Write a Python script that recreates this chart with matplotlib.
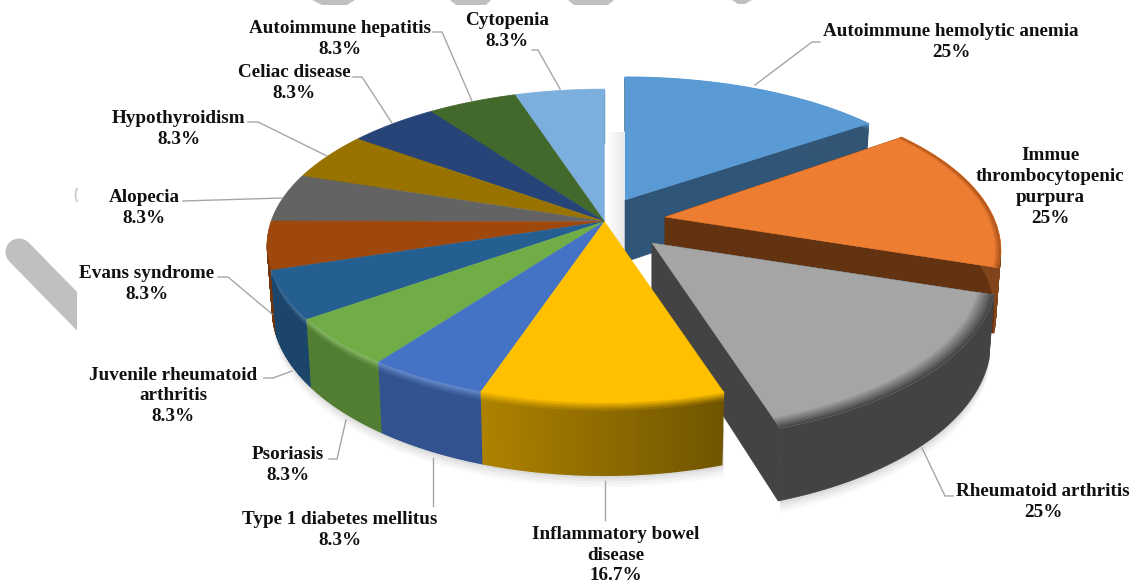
import numpy as np
import matplotlib
matplotlib.use("Agg")
import matplotlib.pyplot as plt
from matplotlib.collections import PolyCollection
from matplotlib.colors import to_rgb
from matplotlib.patches import Arc, Polygon, Rectangle

# slices clockwise from 12 o'clock
categories = [
    "Autoimmune hemolytic anemia",
    "Immue\nthrombocytopenic\npurpura",
    "Rheumatoid arthritis",
    "Inflammatory bowel\ndisease",
    "Type 1 diabetes mellitus",
    "Psoriasis",
    "Juvenile rheumatoid\narthritis",
    "Evans syndrome",
    "Alopecia",
    "Hypothyroidism",
    "Celiac disease",
    "Autoimmune hepatitis",
    "Cytopenia",
]
values = [25, 25, 25, 16.7, 8.3, 8.3, 8.3, 8.3, 8.3, 8.3, 8.3, 8.3, 8.3]

colors = ["#5b9bd5", "#ed7d31", "#a5a5a5", "#ffc000", "#4472c4", "#70ad47", "#255e91",
          "#9e480e", "#636363", "#997300", "#264478", "#43682b", "#7cafdd"]
# label centres in pixels
label_pos = [(951, 42), (1050, 187), (1043, 502), (616, 555), (340, 530), (288, 465), (173, 396),
             (147, 284), (144, 208), (179, 129), (294, 83), (340, 39), (507, 31)]
leaders = {
    0: [(755, 85), (812, 42), (820, 42)],
    2: [(922, 448), (945, 496), (953, 496)],
    3: [(605, 481), (605, 520)],
    4: [(433, 458), (433, 506)],
    5: [(346, 420), (337, 459), (329, 459)],
    6: [(292, 371), (273, 378), (264, 378)],
    7: [(272, 314), (228, 277), (218, 277)],
    8: [(183, 201), (282, 198)],
    9: [(248, 122), (258, 122), (327, 156)],
    10: [(353, 77), (362, 77), (392, 123)],
    11: [(433, 32), (442, 32), (472, 101)],
    12: [(532, 50), (538, 50), (560, 89)],
}

# pie geometry, pixels
RX, RY, K, HEIGHT = 333, 152.5, 0.155, 62
CENTER = (604.5, 221.5, 1, 1, K)
# cx, cy, x scale, y scale, perspective for the pulled-out slices
pulled = {0: (625, 200, 0.985, 0.93, K), 1: (665, 217, 0.985, 1.0, 0.21), 2: (652, 243, 1.01, 1.02, 0.21)}
face_colors = {0: "#2f5578", 1: "#633210", 2: "#434343"}


def project(theta, r, depth, cx, cy, sx, sy, k):
    t = np.radians(theta)
    u, v = r * np.sin(t), r * np.cos(t)
    f = 1 / (1 + k * v)
    x = cx + RX * u * f * sx * (1 - 0.015 * depth)
    y = cy - RY * v * f * sy + HEIGHT * depth / (1 + K * v)
    return np.column_stack([x, y])


def mix(c1, c2, a):
    return tuple((1 - a) * np.array(to_rgb(c1)) + a * np.array(to_rgb(c2)))


def rim_colour(i, theta):
    base = colors[i]
    if i == 2:
        return to_rgb("#434343")
    if i == 3:
        return mix(base, "#000000", 1 - (0.44 + (theta - 162) / 36 * 0.24))
    if i in (0, 1):
        return mix(base, "#000000", 0.45)
    return mix(base, "#000000", 0.27)


def draw_slice(ax, i, a0, a1, geom):
    top = colors[i]
    th = np.linspace(a0, a1, 60)
    apex = project(np.array([0.0]), 0, 0, *geom)
    apex_low = project(np.array([0.0]), 0, 1, *geom)

    # radial cut faces
    if i in pulled:
        for a in (a0, a1):
            p0 = project(np.array([a]), 1, 0, *geom)
            p1 = project(np.array([a]), 1, 1, *geom)
            ax.add_patch(Polygon(np.vstack([apex, p0, p1, apex_low]), fc=face_colors[i],
                                 ec=face_colors[i], lw=0.5))

    # outer rim, split in small quads for the shading
    if i == 2:
        up = project(th, 1, 0, *geom)
        low = project(th, 1, 1, *geom)
        ax.add_patch(Polygon(np.vstack([up, low[::-1]]), fc="#434343", ec="#434343", lw=0.5))
    else:
        depths = [0, 0.02, 0.04, 0.06, 0.08, 0.1, 0.13, 1]
        quads, cols = [], []
        for j in range(len(depths) - 1):
            up = project(th, 1, depths[j], *geom)
            low = project(th, 1, depths[j + 1], *geom)
            for n in range(len(th) - 1):
                quads.append([up[n], up[n + 1], low[n + 1], low[n]])
                highlight = mix(top, "#ffffff", 0.2) if i > 3 else top
                cols.append(mix(highlight, rim_colour(i, th[n]), min(1, j / 6)))
        ax.add_collection(PolyCollection(quads, facecolors=cols, edgecolors=cols, linewidths=1.0))

    # top surface
    arc = project(th, 1, 0, *geom)
    ax.add_patch(Polygon(np.vstack([apex, arc]), fc=top, ec=top, lw=0.3))

    # darker bevel inside the edge of the two right slices
    if i in (1, 2):
        rings = np.linspace(0.955, 1, 10) if i == 2 else np.linspace(0.985, 1, 4)
        dark = "#434343" if i == 2 else "#b0561c"
        for n in range(len(rings) - 1):
            outer = project(th, rings[n + 1], 0, *geom)
            inner = project(th, rings[n], 0, *geom)
            c = mix(top, dark, (n + 1) / (len(rings) - 1))
            ax.add_patch(Polygon(np.vstack([inner, outer[::-1]]), fc=c, ec=c, lw=0.2))


def draw_shadow(ax, a0, a1, geom):
    th = np.linspace(a0, a1, 80)
    for off, alpha in zip((12, 9, 6, 3), (0.025, 0.03, 0.04, 0.05)):
        low = project(th, 1, 1, *geom) + [0, off]
        up = project(th, 1, 0.5, *geom)
        ax.add_patch(Polygon(np.vstack([low, up[::-1]]), fc="#000000", ec="none", alpha=alpha))


fig = plt.figure(figsize=(11.38, 5.87), dpi=100)
ax = fig.add_axes([0, 0, 1, 1])
ax.set_xlim(0, 1138)
ax.set_ylim(587, 0)
ax.axis("off")

# watermark strokes
wm = "#c0c0c0"
band, = ax.plot([19, 110], [252, 345], color=wm, lw=19.5, solid_capstyle="round", zorder=0)
band.set_clip_path(Rectangle((0, 200), 77, 200, transform=ax.transData))
ax.add_patch(Polygon([(312, 0), (355, 0), (347, 5), (322, 5)], fc=wm, ec="none", zorder=0))
ax.add_patch(Polygon([(450, 0), (491, 0), (486, 5), (456, 5)], fc=wm, ec="none", zorder=0))
ax.add_patch(Polygon([(568, 0), (614, 0), (608, 5), (574, 5)], fc=wm, ec="none", zorder=0))
ax.add_patch(Polygon([(732, 0), (752, 0), (745, 4), (738, 4)], fc=wm, ec="none", zorder=0))
ax.add_patch(Arc((80, 195), 9, 17, theta1=110, theta2=250, color="#c8c8c8", lw=1.2, zorder=0))

# soft shadow in the gap behind the pulled-out slices
for x0, g in zip(range(608, 624, 2), np.linspace(0.99, 0.92, 8)):
    ax.add_patch(Rectangle((x0, 132), 624 - x0, 118, fc=str(g), ec="none", zorder=0))

# slice angles
angles = np.cumsum([0] + values) / np.sum(values) * 360
spans = [(angles[i], angles[i + 1]) for i in range(len(values))]

draw_shadow(ax, 162, 275, CENTER)
draw_shadow(ax, 108, 162, pulled[2])

for i in pulled:
    draw_slice(ax, i, spans[i][0], spans[i][1], pulled[i])

rest = [i for i in range(len(values)) if i not in pulled]
rest.sort(key=lambda i: -np.cos(np.radians(sum(spans[i]) / 2)))
for i in rest:
    draw_slice(ax, i, spans[i][0], spans[i][1], CENTER)

for i, pts in leaders.items():
    xs, ys = zip(*pts)
    ax.plot(xs, ys, color="#a6a6a6", lw=1.0, zorder=5)

for name, val, (x, y) in zip(categories, values, label_pos):
    ax.text(x, y, "{}\n{:g}%".format(name, val), ha="center", va="center", family="Liberation Serif",
            fontweight="bold", fontsize=13.8, color="#111111", linespacing=1.3, zorder=6)

fig.savefig("out.png", dpi=100)
